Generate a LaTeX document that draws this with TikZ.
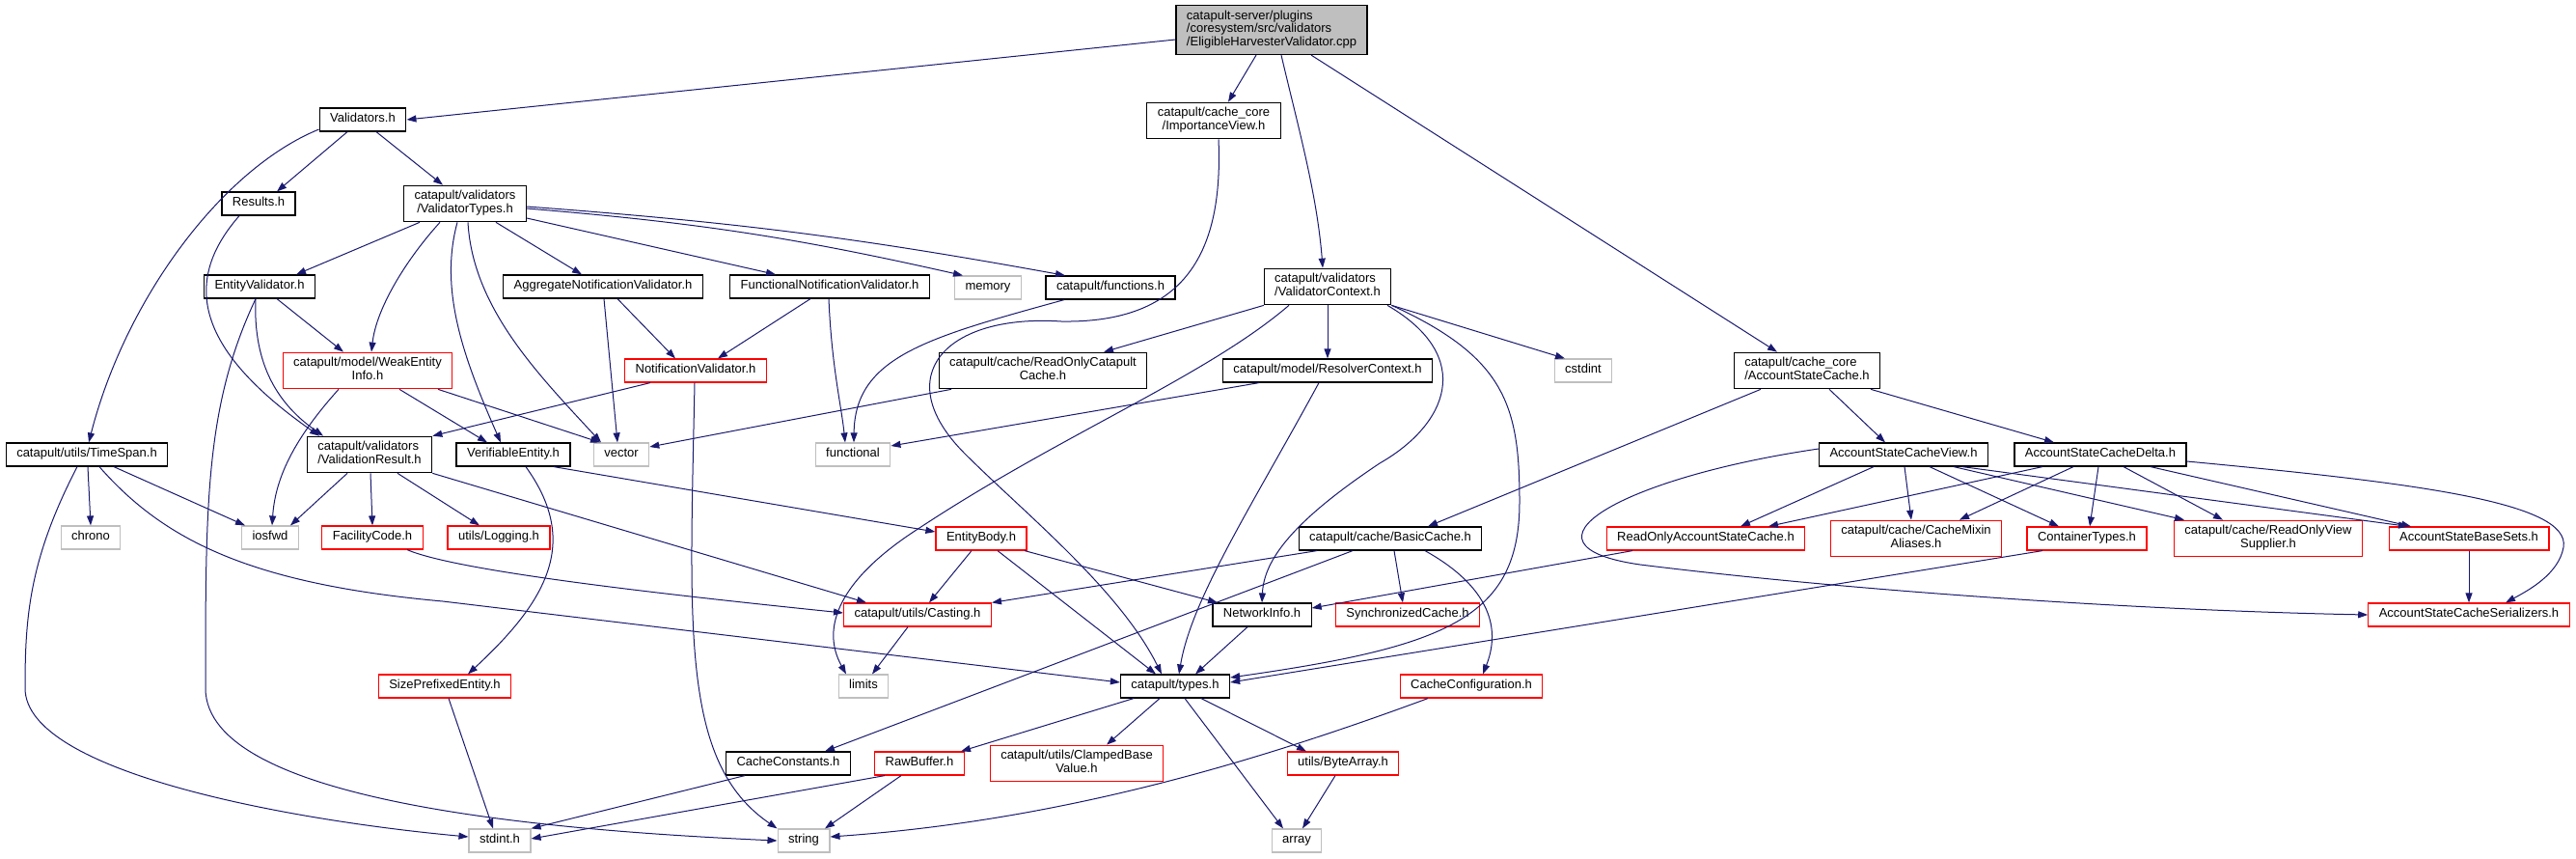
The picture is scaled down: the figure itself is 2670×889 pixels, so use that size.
\documentclass[tikz,border=0pt]{standalone}
\usepackage{fontspec}
\setmainfont{Liberation Sans}
\usetikzlibrary{arrows.meta}
\definecolor{edgeblue}{HTML}{191970}
\definecolor{sysgray}{HTML}{BFBFBF}
\begin{document}
\begin{tikzpicture}[x=1pt,y=-1pt,>={Triangle[length=10pt,width=7pt]},
 every node/.style={font=\fontsize{13}{13.5}\selectfont},
 hdr/.style={draw,line width=1.2pt,fill=white,align=center,inner xsep=11pt,inner ysep=5.25pt,minimum height=24pt,execute at begin node=\strut},
 redhdr/.style={hdr,draw=red},
 syshdr/.style={hdr,draw=sysgray},
 dep/.style={->,draw=edgeblue,line width=1pt}]
\useasboundingbox (0,0) rectangle (2670,889);
\node[hdr,fill=sysgray,align=left] (root) at (1318,31) {catapult-server/plugins\\/coresystem/src/validators\\/EligibleHarvesterValidator.cpp};
\node[hdr] (validators) at (376,124) {Validators.h};
\node[hdr] (impview) at (1258,125) {catapult/cache\_core\\/ImportanceView.h};
\node[hdr] (results) at (268,211) {Results.h};
\node[hdr] (vtypes) at (482,211) {catapult/validators\\/ValidatorTypes.h};
\node[hdr] (entval) at (269,297) {EntityValidator.h};
\node[hdr] (aggnv) at (625,297) {AggregateNotificationValidator.h};
\node[hdr] (funcnv) at (860,297) {FunctionalNotificationValidator.h};
\node[syshdr] (memory) at (1024,298) {memory};
\node[hdr] (functions) at (1151,298) {catapult/functions.h};
\node[hdr,align=left] (vctx) at (1376,297) {catapult/validators\\/ValidatorContext.h};
\node[redhdr] (weakinfo) at (381,384) {catapult/model/WeakEntity\\Info.h};
\node[redhdr] (notifval) at (721,384) {NotificationValidator.h};
\node[hdr] (roccache) at (1081,384) {catapult/cache/ReadOnlyCatapult\\Cache.h};
\node[hdr] (resolver) at (1376,384) {catapult/model/ResolverContext.h};
\node[syshdr] (cstdint) at (1641,384) {cstdint};
\node[hdr,align=left] (ascache) at (1873,384) {catapult/cache\_core\\/AccountStateCache.h};
\node[hdr] (timespan) at (90,471) {catapult/utils/TimeSpan.h};
\node[hdr,align=left] (valres) at (383,471) {catapult/validators\\/ValidationResult.h};
\node[hdr] (verent) at (532,471) {VerifiableEntity.h};
\node[syshdr] (vector) at (644,471) {vector};
\node[syshdr] (functional) at (884,471) {functional};
\node[hdr] (asview) at (1973,471) {AccountStateCacheView.h};
\node[hdr] (asdelta) at (2177,471) {AccountStateCacheDelta.h};
\node[syshdr] (chrono) at (94,557) {chrono};
\node[syshdr] (iosfwd) at (280,557) {iosfwd};
\node[redhdr] (facility) at (386,557) {FacilityCode.h};
\node[redhdr] (logging) at (517,557) {utils/Logging.h};
\node[redhdr] (entbody) at (1017,558) {EntityBody.h};
\node[hdr] (basiccache) at (1441,558) {catapult/cache/BasicCache.h};
\node[redhdr] (roascache) at (1768,558) {ReadOnlyAccountStateCache.h};
\node[redhdr] (mixin) at (1986,558) {catapult/cache/CacheMixin\\Aliases.h};
\node[redhdr] (container) at (2163,558) {ContainerTypes.h};
\node[redhdr] (roview) at (2351,558) {catapult/cache/ReadOnlyView\\Supplier.h};
\node[redhdr] (basesets) at (2559,558) {AccountStateBaseSets.h};
\node[redhdr] (casting) at (951,637) {catapult/utils/Casting.h};
\node[hdr] (netinfo) at (1308,637) {NetworkInfo.h};
\node[redhdr] (synccache) at (1459,637) {SynchronizedCache.h};
\node[redhdr] (serializers) at (2559,637) {AccountStateCacheSerializers.h};
\node[redhdr] (sizepref) at (461,711) {SizePrefixedEntity.h};
\node[syshdr] (limits) at (895,711) {limits};
\node[hdr] (types) at (1218,711) {catapult/types.h};
\node[redhdr] (cacheconf) at (1525,711) {CacheConfiguration.h};
\node[hdr] (cacheconst) at (817,791) {CacheConstants.h};
\node[redhdr] (rawbuf) at (953,791) {RawBuffer.h};
\node[redhdr] (clamped) at (1116,791) {catapult/utils/ClampedBase\\Value.h};
\node[redhdr] (bytearray) at (1392,791) {utils/ByteArray.h};
\node[syshdr] (stdint) at (518,871) {stdint.h};
\node[syshdr] (string) at (833,871) {string};
\node[syshdr] (array) at (1344,871) {array};
\draw[dep] ([yshift=-10pt]root.west)--(validators.east);
\draw[dep] ([xshift=-16pt]root.south)--([xshift=15pt]impview.north);
\draw[dep] ([xshift=10pt]root.south) .. controls (1345,130) and (1365,200) .. ([xshift=-5pt]vctx.north);
\draw[dep] ([xshift=41pt]root.south)--([xshift=-31pt]ascache.north);
\draw[dep] ([xshift=-16pt]validators.south)--([xshift=19pt]results.north);
\draw[dep] ([xshift=14pt]validators.south)--([xshift=-23pt]vtypes.north);
\draw[dep] ([yshift=-10pt]validators.west) .. controls (230,175) and (130,310) .. ([xshift=2pt]timespan.north);
\draw[dep] ([xshift=-20pt]results.south) .. controls (190,290) and (200,360) .. ([xshift=-52pt]valres.north);
\draw[dep] ([xshift=-47pt]vtypes.south)--([xshift=38pt]entval.north);
\draw[dep] ([xshift=-26pt]vtypes.south) .. controls (420,270) and (390,320) .. ([xshift=4pt]weakinfo.north);
\draw[dep] ([xshift=-8pt]vtypes.south) .. controls (455,300) and (480,370) .. ([xshift=-13pt]verent.north);
\draw[dep] ([xshift=3pt]vtypes.south) .. controls (490,320) and (560,390) .. ([xshift=-21pt]vector.north);
\draw[dep] ([xshift=32pt]vtypes.south)--([xshift=-22pt]aggnv.north);
\draw[dep] ([yshift=-15pt]vtypes.east)--([xshift=-56pt]funcnv.north);
\draw[dep] ([yshift=-5pt]vtypes.east) to[bend left=4] ([xshift=-26pt]memory.north);
\draw[dep] ([yshift=-3pt]vtypes.east) to[bend left=3] ([xshift=-47pt]functions.north);
\draw[dep] ([xshift=18pt]entval.south)--([xshift=-25pt]weakinfo.north);
\draw[dep] ([xshift=-4pt]entval.south) .. controls (262,380) and (290,420) .. ([xshift=-48pt]valres.north);
\draw[dep] ([xshift=-4pt]entval.south) .. controls (213,420) and (213,520) .. (213,713) .. controls (213,830) and (560,860) .. (string.west);
\draw[dep] ([xshift=1pt]aggnv.south)--([xshift=-4pt]vector.north);
\draw[dep] ([xshift=15pt]aggnv.south)--([xshift=-21pt]notifval.north);
\draw[dep] ([xshift=-20pt]funcnv.south)--([xshift=23pt]notifval.north);
\draw[dep] ([xshift=-1pt]funcnv.south) .. controls (862,380) and (872,420) .. ([xshift=-8pt]functional.north);
\draw[dep] ([xshift=-48pt]functions.south) .. controls (960,350) and (886,370) .. ([xshift=1pt]functional.north);
\draw[dep] ([xshift=-30pt]weakinfo.south) .. controls (300,460) and (285,500) .. ([xshift=2pt]iosfwd.north);
\draw[dep] ([xshift=33pt]weakinfo.south)--([xshift=-27pt]verent.north);
\draw[dep] ([xshift=73pt]weakinfo.south)--([xshift=-22pt]vector.north);
\draw[dep] ([xshift=-47pt]notifval.south)--(valres.north east);
\draw[dep] ([xshift=-1pt]notifval.south) .. controls (715,650) and (705,790) .. (string.north west);
\draw[dep] ([xshift=-23pt]valres.south)--([xshift=21pt]iosfwd.north);
\draw[dep] ([xshift=1pt]valres.south)--(facility.north);
\draw[dep] ([xshift=29pt]valres.south)--([xshift=-20pt]logging.north);
\draw[dep] (valres.south east)--([xshift=-53pt]casting.north);
\draw[dep] ([xshift=42pt]verent.south)--([yshift=7pt]entbody.west);
\draw[dep] ([xshift=13pt]verent.south) .. controls (600,560) and (570,620) .. ([xshift=24pt]sizepref.north);
\draw[dep] ([xshift=1pt]timespan.south)--(chrono.north);
\draw[dep] ([xshift=28pt]timespan.south)--([xshift=-26pt]iosfwd.north);
\draw[dep] ([xshift=-10pt]timespan.south) .. controls (30,580) and (26,640) .. (26,713) .. controls (26,800) and (300,850) .. ([yshift=4pt]stdint.west);
\draw[dep] ([xshift=13pt]timespan.south) .. controls (170,560) and (260,605) .. (459,623) -- ([yshift=4pt]types.west);
\draw[dep] ([xshift=36pt]facility.south) .. controls (470,590) and (650,612) .. ([yshift=2pt]casting.west);
\draw[dep] ([xshift=-10pt]entbody.south)--([xshift=12pt]casting.north);
\draw[dep] ([xshift=17pt]entbody.south)--([xshift=-20pt]types.north);
\draw[dep] ([xshift=45pt]entbody.south)--([xshift=-46pt]netinfo.north);
\draw[dep] ([xshift=5pt]impview.south) .. controls (1268,260) and (1230,335) .. (1100,333) .. controls (980,325) and (920,390) .. (1000,470) .. controls (1060,530) and (1160,610) .. ([xshift=-14pt]types.north);
\draw[dep] ([xshift=-66pt]vctx.south)--([xshift=63pt]roccache.north);
\draw[dep] (vctx.south)--(resolver.north);
\draw[dep] (vctx.south east)--([xshift=-19pt]cstdint.north);
\draw[dep] ([xshift=-40pt]vctx.south) .. controls (1250,390) and (1100,450) .. (953,547) .. controls (870,600) and (850,650) .. ([xshift=-18pt]limits.north);
\draw[dep] ([xshift=62pt]vctx.south) .. controls (1530,370) and (1500,440) .. (1430,480) .. controls (1340,540) and (1310,580) .. (netinfo.north);
\draw[dep] (vctx.south east) .. controls (1560,370) and (1575,420) .. (1575,520) .. controls (1575,640) and (1500,670) .. ([yshift=9pt]types.east);
\draw[dep] ([xshift=-95pt]roccache.south)--([yshift=8pt]vector.east);
\draw[dep] ([xshift=-71pt]resolver.south)--([yshift=9pt]functional.east);
\draw[dep] ([xshift=-9pt]resolver.south) .. controls (1300,520) and (1235,620) .. ([xshift=4pt]types.north);
\draw[dep] ([xshift=-48pt]ascache.south)--([xshift=39pt]basiccache.north);
\draw[dep] ([xshift=23pt]ascache.south)--([xshift=-19pt]asview.north);
\draw[dep] ([xshift=66pt]ascache.south)--([xshift=-48pt]asdelta.north);
\draw[dep] ([xshift=-31pt]asview.south)--([xshift=36pt]roascache.north);
\draw[dep] ([xshift=1pt]asview.south)--([xshift=-5pt]mixin.north);
\draw[dep] ([xshift=27pt]asview.south)--([xshift=-29pt]container.north);
\draw[dep] ([xshift=52pt]asview.south)--([xshift=-87pt]roview.north);
\draw[dep] ([xshift=61pt]asview.south)--([xshift=-63pt]basesets.north);
\draw[dep] ([yshift=6pt]asview.west) .. controls (1680,495) and (1560,565) .. (1700,585) .. controls (1900,610) and (2200,632) .. (serializers.west);
\draw[dep] ([xshift=-60pt]asdelta.south)--([xshift=65pt]roascache.north);
\draw[dep] ([xshift=-28pt]asdelta.south)--([xshift=45pt]mixin.north);
\draw[dep] ([xshift=-2pt]asdelta.south)--([xshift=3pt]container.north);
\draw[dep] ([xshift=24pt]asdelta.south)--([xshift=-47pt]roview.north);
\draw[dep] ([xshift=52pt]asdelta.south)--([xshift=-60pt]basesets.north);
\draw[dep] ([yshift=-7pt]asdelta.east) .. controls (2500,500) and (2665,520) .. (2657,567) .. controls (2652,595) and (2620,612) .. ([xshift=38pt]serializers.north);
\draw[dep] (basesets)--(serializers);
\draw[dep] ([xshift=-76pt]roascache.south)--([yshift=7pt]netinfo.east);
\draw[dep] ([xshift=-46pt]container.south)--([yshift=4pt]types.east);
\draw[dep] ([xshift=-76pt]basiccache.south)--(casting.north east);
\draw[dep] ([xshift=-39pt]basiccache.south)--([xshift=38pt]cacheconst.north);
\draw[dep] ([xshift=4pt]basiccache.south)--([xshift=-5pt]synccache.north);
\draw[dep] ([xshift=36pt]basiccache.south) .. controls (1530,600) and (1560,640) .. ([xshift=12pt]cacheconf.north);
\draw[dep] ([xshift=-10pt]casting.south)--([xshift=9pt]limits.north);
\draw[dep] ([xshift=-15pt]netinfo.south)--([xshift=21pt]types.north);
\draw[dep] ([xshift=-43pt]types.south)--([xshift=43pt]rawbuf.north);
\draw[dep] ([xshift=-16pt]types.south)--([xshift=31pt]clamped.north);
\draw[dep] ([xshift=10pt]types.south)--([xshift=-14pt]array.north);
\draw[dep] ([xshift=27pt]types.south)--([xshift=-38pt]bytearray.north);
\draw[dep] ([xshift=-8pt]bytearray.south)--([xshift=6pt]array.north);
\draw[dep] ([xshift=-36pt]rawbuf.south)--([yshift=2pt]stdint.east);
\draw[dep] ([xshift=-19pt]rawbuf.south)--([xshift=22pt]string.north);
\draw[dep] ([xshift=-45pt]cacheconst.south)--(stdint.north east);
\draw[dep] ([xshift=4pt]sizepref.south)--([xshift=-7pt]stdint.north);
\draw[dep] ([xshift=-45pt]cacheconf.south) .. controls (1300,790) and (1100,850) .. ([yshift=4pt]string.east);
\end{tikzpicture}
\end{document}
